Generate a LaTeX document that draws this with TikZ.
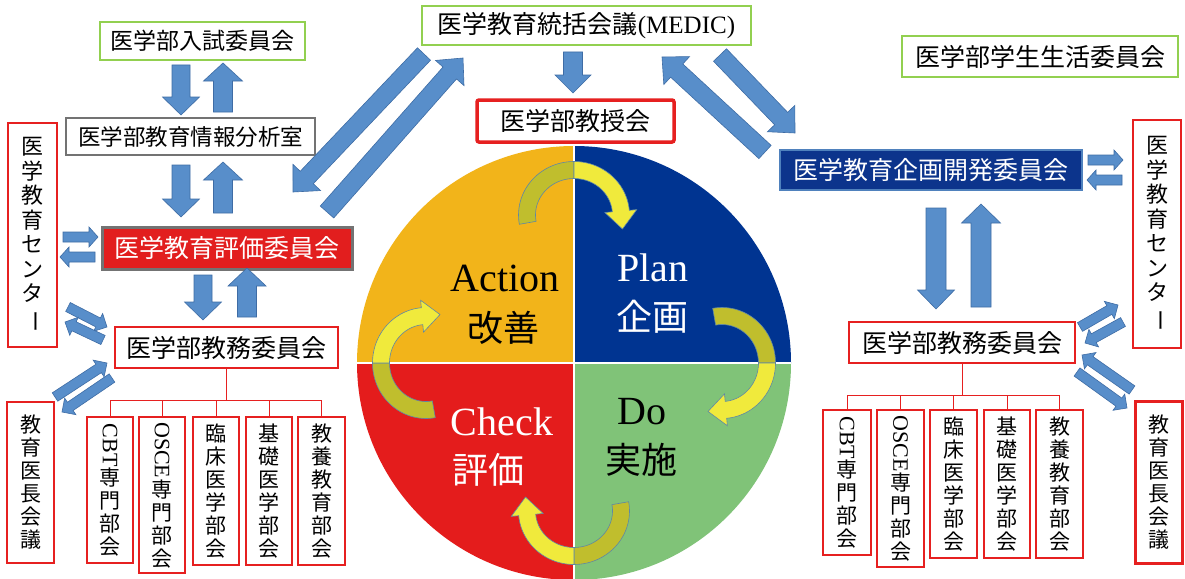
\documentclass[tikz,border=0pt]{standalone}
\usepackage{fontspec}
\usepackage{graphicx}
\setmainfont{Liberation Serif}
\newfontfamily\jp{Noto Sans CJK JP}
\usetikzlibrary{calc}
\definecolor{arrblue}{RGB}{88,142,202}
\definecolor{arrline}{RGB}{62,108,165}
\definecolor{boxgreen}{RGB}{146,208,80}
\definecolor{boxred}{RGB}{230,32,32}
\definecolor{boxgray}{RGB}{115,115,115}
\definecolor{hyokared}{RGB}{226,30,30}
\definecolor{kikakublue}{RGB}{12,52,140}
\definecolor{kikakuline}{RGB}{79,129,189}
\definecolor{qorange}{RGB}{242,180,26}
\definecolor{qblue}{RGB}{0,52,145}
\definecolor{qgreen}{RGB}{128,195,120}
\definecolor{qred}{RGB}{228,28,28}
\definecolor{cyyellow}{RGB}{240,234,60}
\definecolor{cyolive}{RGB}{192,190,45}
\definecolor{cyline}{RGB}{95,135,165}
\newcommand\blockarrow[5]{%
  \coordinate (babase) at ($(#2)!#5!(#1)$);
  \filldraw[blockarr] ($(#1)!#3!90:(#2)$) -- ($(babase)!#3!90:(#2)$) -- ($(babase)!#4!90:(#2)$) -- (#2) -- ($(babase)!#4!-90:(#2)$) -- ($(babase)!#3!-90:(#2)$) -- ($(#1)!#3!-90:(#2)$) -- cycle;}
\begin{document}
\begin{tikzpicture}[x=1pt,y=-1pt,
  blockarr/.style={fill=arrblue, draw=arrline, line width=0.6pt, line join=miter},
  box/.style={draw, rectangle, inner sep=0pt, font=\jp\fontsize{25}{27}\selectfont},
  gbox/.style={box, draw=boxgreen, line width=2pt},
  rbox/.style={box, draw=boxred, line width=2pt},
  vbox/.style={rbox, align=center, font=\jp\fontsize{21}{23}\selectfont},
  subbox/.style={vbox, line width=1.4pt},
  tree/.style={draw=boxred, line width=1pt},
  latin/.style={font=\fontsize{40}{44}\selectfont},
  kanji/.style={font=\jp\fontsize{36}{40}\selectfont},
  cyolivefill/.style={fill=cyolive, draw=cyline, line width=0.6pt},
  cyyellowfill/.style={fill=cyyellow, draw=cyline, line width=0.6pt}]
\useasboundingbox (0,0) rectangle (1185,578);
\fill[white] (0,0) rectangle (1185,578);

% ---- PDCA circle ----
\coordinate (C) at (574,363);
\begin{scope}
  \clip (C) circle[radius=217pt];
  \fill[qorange] (C) rectangle ++(-220,-220);
  \fill[qblue] (C) rectangle ++(220,-220);
  \fill[qgreen] (C) rectangle ++(220,220);
  \fill[qred] (C) rectangle ++(-220,220);
  \draw[white, line width=1.5pt] ($(C)+(0,-220)$) -- ($(C)+(0,220)$);
  \draw[white, line width=1.5pt] ($(C)+(-220,0)$) -- ($(C)+(220,0)$);
\end{scope}
\foreach \k in {0,1,2,3} {
  \begin{scope}[shift={(574,363)}, rotate=-90*\k]
    \filldraw[cyolivefill] plot[domain=170:270, samples=30] ({55.5*cos(\x)},{-148+53.5*sin(\x)}) -- plot[domain=270:170, samples=30] ({38.5*cos(\x)},{-148+36.5*sin(\x)}) -- cycle;
    \filldraw[cyyellowfill] plot[domain=270:355, samples=30] ({55.5*cos(\x)},{-148+53.5*sin(\x)}) -- (62.76,-153.38) -- (48.46,-134) -- (30.88,-150.46) -- plot[domain=355:270, samples=30] ({38.5*cos(\x)},{-148+36.5*sin(\x)}) -- cycle;
  \end{scope}
}
\node[latin, text=black] (action) at (505,278) {Action};
\node[kanji, text=black] (kaizen) at (503,328) {改善};
\node[latin, text=white] (plan) at (653,268) {Plan};
\node[kanji, text=white] (kikakut) at (652,317) {企画};
\node[latin, text=black] (do) at (642,412) {Do};
\node[kanji, text=black] (jisshi) at (641,460) {実施};
\node[latin, text=white] (check) at (502,422) {Check};
\node[kanji, text=white] (hyokat) at (488,470) {評価};

% ---- left side boxes ----
\node[gbox, minimum width=205pt, minimum height=38pt, font=\jp\fontsize{23}{25}\selectfont] (nyushi) at (202.5,41) {医学部入試委員会};
\node[box, draw=boxgray, line width=2pt, minimum width=249pt, minimum height=37pt, font=\jp\fontsize{22.5}{25}\selectfont] (bunseki) at (190.5,136.5) {医学部教育情報分析室};
\node[box, fill=hyokared, draw=boxgray, line width=3pt, text=white, minimum width=250pt, minimum height=42pt] (hyoka) at (227,248) {医学教育評価委員会};
\node[rbox, minimum width=223pt, minimum height=41pt] (kyomuL) at (226.5,347.5) {医学部教務委員会};
\node[vbox, minimum width=49pt, minimum height=224pt, font=\jp\fontsize{22}{24.5}\selectfont] (centerL) at (32.5,235) {医\\学\\教\\育\\セ\\ン\\タ\\\rotatebox[origin=c]{-90}{ー}};
\node[vbox, line width=2.5pt, minimum width=47pt, minimum height=161pt] (ichoL) at (30.5,482.5) {教\\育\\医\\長\\会\\議};
\node[subbox, minimum width=46pt, minimum height=146pt] (cbtL) at (110,490) {\rotatebox[origin=c]{-90}{\rmfamily\fontsize{22}{22}\selectfont CBT}\\専\\門\\部\\会};
\node[subbox, minimum width=46pt, minimum height=156pt] (osceL) at (162,495) {\rotatebox[origin=c]{-90}{\rmfamily\fontsize{22}{22}\selectfont OSCE}\\専\\門\\部\\会};
\node[subbox, minimum width=46pt, minimum height=148pt] (rinshoL) at (216,491) {臨\\床\\医\\学\\部\\会};
\node[subbox, minimum width=46pt, minimum height=148pt] (kisoL) at (269,491) {基\\礎\\医\\学\\部\\会};
\node[subbox, minimum width=47pt, minimum height=148pt] (kyoyoL) at (321.5,491) {教\\養\\教\\育\\部\\会};

% ---- top center ----
\node[gbox, line width=1.5pt, minimum width=329pt, minimum height=39pt] (medic) at (586.5,25.5) {医学教育統括会議{\rmfamily (MEDIC)}};
\node[rbox, line width=3.5pt, rounded corners=2pt, minimum width=197pt, minimum height=42pt] (kyoju) at (575.5,121) {医学部教授会};

% ---- right side boxes ----
\node[box, fill=kikakublue, draw=kikakuline, line width=1.5pt, text=white, minimum width=302pt, minimum height=40pt] (kikaku) at (931,170) {医学教育企画開発委員会};
\node[gbox, minimum width=276pt, minimum height=41pt] (seikatsu) at (1040,56.5) {医学部学生生活委員会};
\node[vbox, minimum width=48pt, minimum height=228pt, font=\jp\fontsize{22}{24.5}\selectfont] (centerR) at (1157,234) {医\\学\\教\\育\\セ\\ン\\タ\\\rotatebox[origin=c]{-90}{ー}};
\node[rbox, line width=2.5pt, minimum width=226pt, minimum height=41pt] (kyomuR) at (962,342.5) {医学部教務委員会};
\node[vbox, line width=3pt, minimum width=47pt, minimum height=162pt] (ichoR) at (1158.5,482) {教\\育\\医\\長\\会\\議};
\node[subbox, minimum width=48pt, minimum height=145pt] (cbtR) at (847,482.5) {\rotatebox[origin=c]{-90}{\rmfamily\fontsize{22}{22}\selectfont CBT}\\専\\門\\部\\会};
\node[subbox, minimum width=47pt, minimum height=157pt] (osceR) at (900.5,488.5) {\rotatebox[origin=c]{-90}{\rmfamily\fontsize{22}{22}\selectfont OSCE}\\専\\門\\部\\会};
\node[subbox, minimum width=47pt, minimum height=148pt] (rinshoR) at (953.5,484) {臨\\床\\医\\学\\部\\会};
\node[subbox, minimum width=46pt, minimum height=148pt] (kisoR) at (1007,484) {基\\礎\\医\\学\\部\\会};
\node[subbox, minimum width=47pt, minimum height=148pt] (kyoyoR) at (1059.5,484) {教\\養\\教\\育\\部\\会};

% ---- tree connectors ----
\coordinate (busL) at (226.5,400);
\draw[tree] (kyomuL.south) -- (busL);
\foreach \n in {cbtL,osceL,rinshoL,kisoL,kyoyoL} {\draw[tree] (\n.north) |- (busL);}
\coordinate (busR) at (962,395);
\draw[tree] (kyomuR.south) -- (busR);
\foreach \n in {cbtR,osceR,rinshoR,kisoR,kyoyoR} {\draw[tree] (\n.north) |- (busR);}

% ---- block arrows: coordinates ----
\coordinate (a1t) at (181,65);   \coordinate (a1h) at (181,115);
\coordinate (a2t) at (223,112);  \coordinate (a2h) at (223,63);
\coordinate (a3t) at (181,165);  \coordinate (a3h) at (181,217);
\coordinate (a4t) at (223,213);  \coordinate (a4h) at (223,162);
\coordinate (a5t) at (203,275);  \coordinate (a5h) at (203,320);
\coordinate (a6t) at (247,317);  \coordinate (a6h) at (247,268);
\coordinate (a7t) at (63,237);   \coordinate (a7h) at (98,237);
\coordinate (a8t) at (95,257);   \coordinate (a8h) at (60,257);
\coordinate (a9t) at (68,307);   \coordinate (a9h) at (107,327);
\coordinate (a10t) at (103,340); \coordinate (a10h) at (65,322);
\coordinate (a11t) at (55,397);  \coordinate (a11h) at (107,363);
\coordinate (a12t) at (112,378); \coordinate (a12h) at (62,412);
\coordinate (a13t) at (424,54);  \coordinate (a13h) at (293,192);
\coordinate (a14t) at (327,212); \coordinate (a14h) at (463,58);
\coordinate (a15t) at (573,52);  \coordinate (a15h) at (573,93);
\coordinate (a16t) at (765,152); \coordinate (a16h) at (662,57);
\coordinate (a17t) at (720,55);  \coordinate (a17h) at (795,133);
\coordinate (a18t) at (1088,160); \coordinate (a18h) at (1123,160);
\coordinate (a19t) at (1122,180); \coordinate (a19h) at (1087,180);
\coordinate (a20t) at (936,208); \coordinate (a20h) at (936,309);
\coordinate (a21t) at (981,307); \coordinate (a21h) at (981,204);
\coordinate (a22t) at (1080,327); \coordinate (a22h) at (1118,305);
\coordinate (a23t) at (1123,322); \coordinate (a23h) at (1085,343);
\coordinate (a24t) at (1132,390); \coordinate (a24h) at (1082,355);
\coordinate (a25t) at (1077,372); \coordinate (a25h) at (1127,408);

\blockarrow{a1t}{a1h}{9pt}{18.5pt}{18pt}
\blockarrow{a2t}{a2h}{9.5pt}{19.5pt}{18pt}
\blockarrow{a3t}{a3h}{9pt}{18.5pt}{18pt}
\blockarrow{a4t}{a4h}{9.5pt}{19.5pt}{18pt}
\blockarrow{a5t}{a5h}{9pt}{18.5pt}{18pt}
\blockarrow{a6t}{a6h}{9.5pt}{19pt}{18pt}
\blockarrow{a7t}{a7h}{5pt}{10pt}{9pt}
\blockarrow{a8t}{a8h}{5pt}{10pt}{9pt}
\blockarrow{a9t}{a9h}{5pt}{10pt}{10pt}
\blockarrow{a10t}{a10h}{5pt}{10pt}{10pt}
\blockarrow{a11t}{a11h}{5pt}{10pt}{10pt}
\blockarrow{a12t}{a12h}{5pt}{10pt}{10pt}
\blockarrow{a13t}{a13h}{9pt}{19pt}{20pt}
\blockarrow{a14t}{a14h}{9pt}{19pt}{20pt}
\blockarrow{a15t}{a15h}{9.5pt}{18pt}{18pt}
\blockarrow{a16t}{a16h}{9pt}{19pt}{20pt}
\blockarrow{a17t}{a17h}{9pt}{19pt}{20pt}
\blockarrow{a18t}{a18h}{5pt}{10pt}{9pt}
\blockarrow{a19t}{a19h}{5pt}{10pt}{9pt}
\blockarrow{a20t}{a20h}{10pt}{18.5pt}{19pt}
\blockarrow{a21t}{a21h}{10pt}{19.5pt}{19pt}
\blockarrow{a22t}{a22h}{5pt}{10pt}{10pt}
\blockarrow{a23t}{a23h}{5pt}{10pt}{10pt}
\blockarrow{a24t}{a24h}{5pt}{10pt}{10pt}
\blockarrow{a25t}{a25h}{5pt}{10pt}{10pt}
\end{tikzpicture}
\end{document}
